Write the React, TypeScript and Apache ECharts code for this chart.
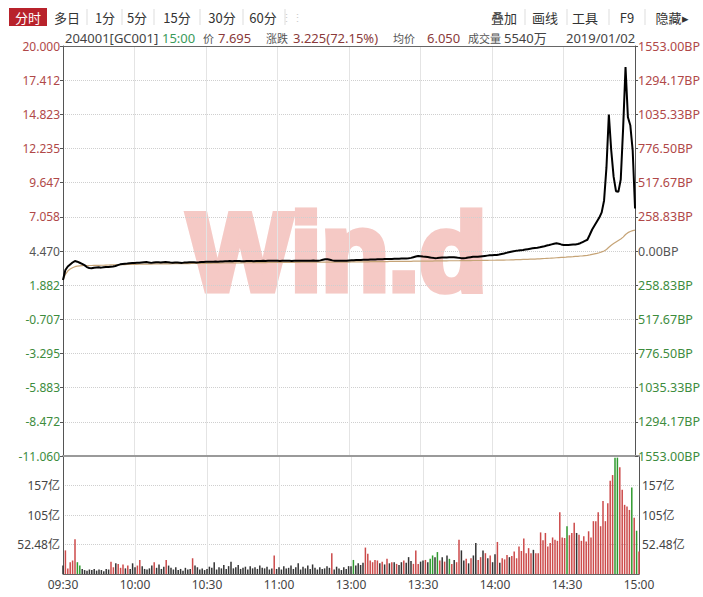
import React, { useEffect, useRef } from "react";
import * as echarts from "echarts";

// ---------- data ----------
const PRE_CLOSE = 4.47;
const ROW_STEP = 15.53 / 6; // price per grid row (12 rows)
const VOL_STEP = 52.48; // 亿 per volume grid row

const timeLabels: string[] = [];
for (let i = 0; i <= 240; i++) {
  const m = i < 120 ? 9 * 60 + 30 + i : 13 * 60 + (i - 120);
  const hh = Math.floor(m / 60);
  const mm = m % 60;
  timeLabels.push(String(hh).padStart(2, "0") + ":" + String(mm).padStart(2, "0"));
}

const priceData = [
  2.27, 3.03, 3.3, 3.45, 3.6, 3.71, 3.66, 3.58, 3.5, 3.4,
  3.25, 3.18, 3.16, 3.2, 3.22, 3.23, 3.21, 3.24, 3.26, 3.25,
  3.28, 3.3, 3.33, 3.4, 3.46, 3.48, 3.5, 3.52, 3.55, 3.56,
  3.57, 3.58, 3.58, 3.6, 3.62, 3.63, 3.6, 3.57, 3.59, 3.61,
  3.61, 3.6, 3.62, 3.63, 3.61, 3.59, 3.58, 3.6, 3.59, 3.58,
  3.57, 3.59, 3.6, 3.61, 3.62, 3.61, 3.6, 3.61, 3.63, 3.64,
  3.65, 3.66, 3.65, 3.66, 3.67, 3.66, 3.67, 3.68, 3.69, 3.7,
  3.71, 3.7, 3.71, 3.72, 3.71, 3.7, 3.7, 3.71, 3.72, 3.71,
  3.7, 3.71, 3.71, 3.72, 3.73, 3.72, 3.73, 3.73, 3.74, 3.73,
  3.73, 3.72, 3.73, 3.74, 3.73, 3.73, 3.72, 3.73, 3.74, 3.73,
  3.73, 3.74, 3.73, 3.73, 3.74, 3.75, 3.74, 3.74, 3.76, 3.8,
  3.84, 3.84, 3.8, 3.76, 3.74, 3.73, 3.74, 3.73, 3.74, 3.74,
  3.75, 3.76, 3.77, 3.78, 3.79, 3.79, 3.8, 3.81, 3.81, 3.82,
  3.82, 3.83, 3.84, 3.84, 3.85, 3.86, 3.86, 3.87, 3.87, 3.88,
  3.89, 3.89, 3.9, 3.9, 3.91, 3.92, 3.95, 4.0, 4.05, 4.09,
  4.08, 4.05, 4.04, 4.01, 3.98, 3.95, 3.93, 3.94, 3.96, 3.97,
  3.98, 3.98, 3.99, 3.99, 4.0, 3.98, 3.95, 3.93, 3.92, 3.94,
  3.97, 4.0, 4.03, 4.04, 4.04, 4.06, 4.08, 4.1, 4.12, 4.14,
  4.15, 4.16, 4.17, 4.2, 4.24, 4.28, 4.33, 4.38, 4.42, 4.45,
  4.48, 4.5, 4.53, 4.55, 4.58, 4.61, 4.64, 4.67, 4.7, 4.72,
  4.75, 4.79, 4.83, 4.88, 4.92, 4.97, 5.02, 5.05, 5.02, 4.97,
  4.93, 4.92, 4.93, 4.95, 4.96, 4.97, 5.0, 5.06, 5.15, 5.24,
  5.32, 5.7, 6.1, 6.4, 6.7, 7.0, 7.4, 8.3, 10.8, 14.8,
  12.1, 10.1, 9.0, 8.95, 9.9, 13.8, 18.4, 14.6, 14.0, 12.1,
  7.695,
];

const avgData = [
  2.27, 2.7, 2.95, 3.1, 3.2, 3.28, 3.32, 3.35, 3.36, 3.37,
  3.37, 3.37, 3.37, 3.38, 3.38, 3.38, 3.39, 3.39, 3.4, 3.41,
  3.42, 3.42, 3.42, 3.43, 3.43, 3.44, 3.44, 3.45, 3.45, 3.45,
  3.46, 3.46, 3.47, 3.47, 3.47, 3.48, 3.48, 3.48, 3.49, 3.49,
  3.49, 3.49, 3.5, 3.5, 3.5, 3.5, 3.51, 3.51, 3.51, 3.51,
  3.52, 3.52, 3.52, 3.52, 3.53, 3.53, 3.53, 3.53, 3.53, 3.54,
  3.54, 3.54, 3.54, 3.55, 3.55, 3.55, 3.55, 3.56, 3.56, 3.56,
  3.56, 3.57, 3.57, 3.57, 3.57, 3.57, 3.58, 3.58, 3.58, 3.58,
  3.58, 3.59, 3.59, 3.59, 3.59, 3.59, 3.6, 3.6, 3.6, 3.6,
  3.6, 3.6, 3.6, 3.61, 3.61, 3.61, 3.61, 3.61, 3.61, 3.61,
  3.62, 3.62, 3.62, 3.62, 3.62, 3.62, 3.62, 3.62, 3.63, 3.63,
  3.63, 3.63, 3.63, 3.63, 3.63, 3.63, 3.63, 3.63, 3.63, 3.63,
  3.63, 3.64, 3.64, 3.64, 3.64, 3.65, 3.65, 3.65, 3.65, 3.66,
  3.66, 3.66, 3.66, 3.67, 3.67, 3.67, 3.67, 3.68, 3.68, 3.68,
  3.68, 3.68, 3.69, 3.69, 3.69, 3.69, 3.69, 3.7, 3.7, 3.7,
  3.7, 3.7, 3.71, 3.71, 3.71, 3.71, 3.72, 3.72, 3.72, 3.72,
  3.72, 3.72, 3.73, 3.73, 3.73, 3.73, 3.73, 3.74, 3.74, 3.74,
  3.74, 3.74, 3.75, 3.75, 3.75, 3.75, 3.76, 3.76, 3.76, 3.77,
  3.77, 3.77, 3.78, 3.78, 3.78, 3.78, 3.79, 3.79, 3.8, 3.8,
  3.81, 3.81, 3.82, 3.83, 3.83, 3.84, 3.85, 3.86, 3.86, 3.87,
  3.88, 3.89, 3.9, 3.91, 3.92, 3.93, 3.94, 3.96, 3.97, 3.98,
  3.99, 4.0, 4.02, 4.03, 4.04, 4.06, 4.07, 4.09, 4.1, 4.12,
  4.14, 4.17, 4.21, 4.25, 4.29, 4.34, 4.4, 4.47, 4.58, 4.75,
  4.9, 5.03, 5.15, 5.27, 5.38, 5.52, 5.72, 5.86, 5.95, 6.01,
  6.05,
];

// 成交额 (亿) per minute
const volumeData = [
  15, 42, 10, 21, 24, 62, 21, 15, 9, 7,
  6, 8, 7, 9, 6, 8, 7, 5, 9, 8,
  22, 12, 19, 18, 11, 17, 10, 15, 9, 19,
  12, 15, 25, 14, 9, 8, 10, 15, 21, 11,
  17, 9, 13, 25, 15, 11, 8, 12, 7, 9,
  6, 11, 8, 9, 28, 15, 12, 8, 10, 7,
  9, 13, 11, 21, 8, 12, 10, 16, 9, 14,
  22, 10, 12, 16, 9, 11, 13, 8, 14, 10,
  12, 9, 15, 11, 10, 13, 8, 10, 33, 9,
  12, 8, 14, 10, 11, 15, 9, 12, 19, 8,
  13, 10, 15, 9, 17, 11, 8, 12, 9, 10,
  14, 11, 37, 8, 13, 10, 7, 12, 9, 14,
  14, 25, 15, 19, 16, 20, 47, 36, 24, 21,
  25, 24, 19, 22, 17, 27, 19, 21, 21, 18,
  16, 21, 24, 20, 30, 23, 18, 42, 18, 22,
  24, 25, 21, 27, 33, 30, 39, 24, 30, 22,
  33, 27, 18, 25, 21, 61, 42, 24, 27, 19,
  28, 33, 55, 25, 30, 42, 37, 28, 33, 21,
  35, 57, 20, 28, 26, 34, 30, 32, 40, 28,
  49, 41, 63, 37, 46, 37, 43, 37, 37, 74,
  60, 73, 49, 55, 65, 61, 59, 110, 65, 64,
  85, 69, 73, 91, 73, 70, 59, 67, 58, 76,
  65, 94, 94, 110, 85, 130, 94, 126, 166, 176,
  207, 207, 190, 150, 123, 120, 114, 154, 100, 77,
  40,
];

// r = up (red), g = down (green), k = flat (dark)
const volumeDir = [
  "krrrrrggkk", "kkkkkkkkkk", "rrkrrrkrkk", "krrkkkkkrk", "kkkrkkkkkk",
  "kkkkrkkkkk", "kkkkkkkkkk", "kkkkkkkkkk", "kkkkkkkkrk", "kkkkkkkkkk",
  "kkkkkkkkkk", "kkrkkkkkkk", "kgkkkkrrrr", "rrkrkrkrkr", "kkrkkkrrrk",
  "krkggkgrkr", "kgrkrrkkrk", "rkkrrkrkrk", "krkrrrkrrr", "rrrrrrkrrr",
  "rrrrrrrrrr", "grrrkrrrrr", "rrrrrrrrrr", "ggrrrrrgrg", "r",
].join("");

const toolbarLeft = ["多日", "1分", "5分", "15分", "30分", "60分"];
const toolbarRight = ["叠加", "画线", "工具", "F9", "隐藏▸"];

// ---------- style ----------
const UP = "#b04848";
const DOWN = "#3d8c3d";
const FLAT = "#555";
const FONT = '"Noto Sans", "Noto Sans CJK SC", sans-serif';
const CJK = '"Noto Sans CJK SC", "Noto Sans", sans-serif';

const fmtPrice = (v: number) => (Math.round((PRE_CLOSE + v * ROW_STEP) * 1000) / 1000).toFixed(3);
const fmtBP = (v: number) => (Math.round(Math.abs(v) * ROW_STEP * 100 * 100) / 100).toFixed(2) + "BP";
const fmtVol = (v: number) => {
  if (v <= 0 || v >= 4) return "";
  const x = v * VOL_STEP;
  return (x < 100 ? x.toFixed(2) : String(Math.round(x))) + "亿";
};
const priceColor = (val: any) => {
  const v = Number(val);
  return v > 1e-9 ? UP : v < -1e-9 ? DOWN : FLAT;
};

function buildOption(): any {
  const isMajor = (i: number) => i % 30 === 0 && i !== 0 && i !== 240;
  const dirColor: Record<string, string> = { r: "#cc4a4a", g: "#2f9a2f", k: "#333333" };

  const graphic: any[] = [];
  // watermark
  graphic.push({
    type: "text",
    x: 188,
    y: 251,
    z: -10,
    silent: true,
    style: {
      text: "Win.d",
      font: 'bold 110px "Liberation Sans", Arial, sans-serif',
      fill: "#f5c9c5",
      stroke: "#f5c9c5",
      lineWidth: 7,
      align: "left",
      verticalAlign: "middle",
      textAlign: "left",
      textVerticalAlign: "middle",
    },
  });
  // toolbar
  graphic.push({ type: "rect", shape: { x: 9, y: 8, width: 38, height: 18 }, style: { fill: "#b8222b" } });
  const txt = (text: string, x: number, y: number, fill: string, align = "center", size = 13, family = CJK) => ({
    type: "text",
    x,
    y,
    style: {
      text,
      fill,
      font: `${size}px ${family}`,
      align,
      verticalAlign: "middle",
      textAlign: align,
      textVerticalAlign: "middle",
    },
  });
  graphic.push(txt("分时", 28, 17, "#ffffff"));
  const leftX = [67, 105, 137, 177, 222, 263];
  const leftSep = [87, 122, 154, 200, 243, 285];
  toolbarLeft.forEach((t, i) => graphic.push(txt(t, leftX[i], 17, "#333")));
  leftSep.forEach((x) =>
    graphic.push({ type: "line", shape: { x1: x, y1: 9, x2: x, y2: 25 }, style: { stroke: "#dddddd", lineWidth: 1 } })
  );
  graphic.push(txt("⋮⋮", 292, 17, "#cccccc", "center", 11));
  const rightX = [504, 545, 585, 627, 672];
  const rightSep = [525, 567, 609, 645];
  toolbarRight.forEach((t, i) => graphic.push(txt(t, rightX[i], 17, "#333")));
  rightSep.forEach((x) =>
    graphic.push({ type: "line", shape: { x1: x, y1: 9, x2: x, y2: 25 }, style: { stroke: "#dddddd", lineWidth: 1 } })
  );
  // info line
  const info: [string, number, string, number, string][] = [
    ["204001[GC001]", 65, "#444", 13, FONT],
    ["15:00", 162, "#3a9a5a", 13, FONT],
    ["价", 203, "#555", 11, CJK],
    ["7.695", 218, "#8a3a3a", 13, FONT],
    ["涨跌", 266, "#555", 11, CJK],
    ["3.225(72.15%)", 293, "#8a3a3a", 13, FONT],
    ["均价", 393, "#555", 11, CJK],
    ["6.050", 427, "#8a3a3a", 13, FONT],
    ["成交量", 468, "#555", 11, CJK],
    ["5540万", 504, "#444", 13, FONT],
    ["2019/01/02", 566, "#444", 13, FONT],
  ];
  info.forEach(([t, x, c, s, f]) => graphic.push(txt(t, x, 38, c, "left", s, f)));

  const axisLabelBase = { fontSize: 12, fontFamily: FONT, margin: 3 };

  return {
    animation: false,
    backgroundColor: "#ffffff",
    graphic,
    grid: [
      { left: 63, top: 46, width: 576, height: 410 },
      { left: 63, top: 456, width: 576, height: 118 },
    ],
    xAxis: [
      {
        type: "category",
        gridIndex: 0,
        data: timeLabels,
        boundaryGap: false,
        position: "top",
        axisLine: { show: true, onZero: false, lineStyle: { color: "#666", width: 1 } },
        axisTick: { show: false },
        axisLabel: { show: false },
        splitLine: { show: true, interval: (i: number) => isMajor(i), lineStyle: { color: "#e4e4e4", width: 1 } },
      },
      {
        type: "category",
        gridIndex: 1,
        data: timeLabels,
        boundaryGap: false,
        position: "bottom",
        axisLine: { show: true, onZero: false, lineStyle: { color: "#666", width: 1 } },
        axisTick: { show: false },
        axisLabel: {
          show: true,
          interval: (i: number) => i % 30 === 0,
          color: "#444",
          fontSize: 12,
          fontFamily: FONT,
          margin: 4,
        },
        splitLine: { show: true, interval: (i: number) => isMajor(i), lineStyle: { color: "#e4e4e4", width: 1 } },
      },
      {
        type: "category",
        gridIndex: 1,
        data: timeLabels,
        boundaryGap: false,
        position: "top",
        axisLine: { show: true, onZero: false, lineStyle: { color: "#9a9a9a", width: 2 } },
        axisTick: { show: false },
        axisLabel: { show: false },
        splitLine: { show: false },
      },
    ],
    yAxis: [
      {
        type: "value",
        gridIndex: 0,
        position: "left",
        min: -6,
        max: 6,
        interval: 1,
        axisLine: { show: true, onZero: false, lineStyle: { color: "#555" } },
        axisTick: { show: true, length: 3, lineStyle: { color: "#555" } },
        axisLabel: { ...axisLabelBase, formatter: (v: number) => fmtPrice(v), color: priceColor },
        splitLine: { show: true, lineStyle: { color: "#cfcfcf", type: "dotted", width: 1 } },
      },
      {
        type: "value",
        gridIndex: 0,
        position: "right",
        min: -6,
        max: 6,
        interval: 1,
        axisLine: { show: true, onZero: false, lineStyle: { color: "#555" } },
        axisTick: { show: true, length: 3, lineStyle: { color: "#555" } },
        axisLabel: { ...axisLabelBase, fontSize: 12.5, formatter: (v: number) => fmtBP(v), color: priceColor },
        splitLine: { show: false },
      },
      {
        type: "value",
        gridIndex: 1,
        position: "left",
        min: 0,
        max: 4,
        interval: 1,
        axisLine: { show: true, onZero: false, lineStyle: { color: "#555" } },
        axisTick: { show: false },
        axisLabel: { ...axisLabelBase, formatter: (v: number) => fmtVol(v), color: "#444" },
        splitLine: { show: true, lineStyle: { color: "#cfcfcf", type: "dotted", width: 1 } },
      },
      {
        type: "value",
        gridIndex: 1,
        position: "right",
        min: 0,
        max: 4,
        interval: 1,
        axisLine: { show: true, onZero: false, lineStyle: { color: "#555" } },
        axisTick: { show: false },
        axisLabel: { ...axisLabelBase, formatter: (v: number) => fmtVol(v), color: "#444" },
        splitLine: { show: false },
      },
    ],
    series: [
      {
        type: "line",
        name: "均价",
        xAxisIndex: 0,
        yAxisIndex: 0,
        data: avgData.map((p) => (p - PRE_CLOSE) / ROW_STEP),
        showSymbol: false,
        symbol: "none",
        lineStyle: { color: "#c6a477", width: 1.2 },
        z: 3,
      },
      {
        type: "line",
        name: "价",
        xAxisIndex: 0,
        yAxisIndex: 0,
        data: priceData.map((p) => (p - PRE_CLOSE) / ROW_STEP),
        showSymbol: false,
        symbol: "none",
        lineStyle: { color: "#000000", width: 2 },
        z: 4,
      },
      {
        type: "bar",
        name: "成交额",
        xAxisIndex: 1,
        yAxisIndex: 2,
        barWidth: 1.5,
        data: volumeData.map((v, i) => ({
          value: v / VOL_STEP,
          itemStyle: { color: dirColor[volumeDir[i]] || "#333" },
        })),
      },
    ],
  };
}

export default function App() {
  const ref = useRef<HTMLDivElement>(null);
  useEffect(() => {
    document.body.style.margin = "0";
    if (!ref.current) return;
    const chart = echarts.init(ref.current, undefined, { renderer: "svg" });
    chart.setOption(buildOption());
    return () => chart.dispose();
  }, []);
  return (
    <div
      ref={ref}
      style={{ position: "fixed", left: 0, top: 0, width: 703, height: 597, background: "#fff" }}
    />
  );
}
